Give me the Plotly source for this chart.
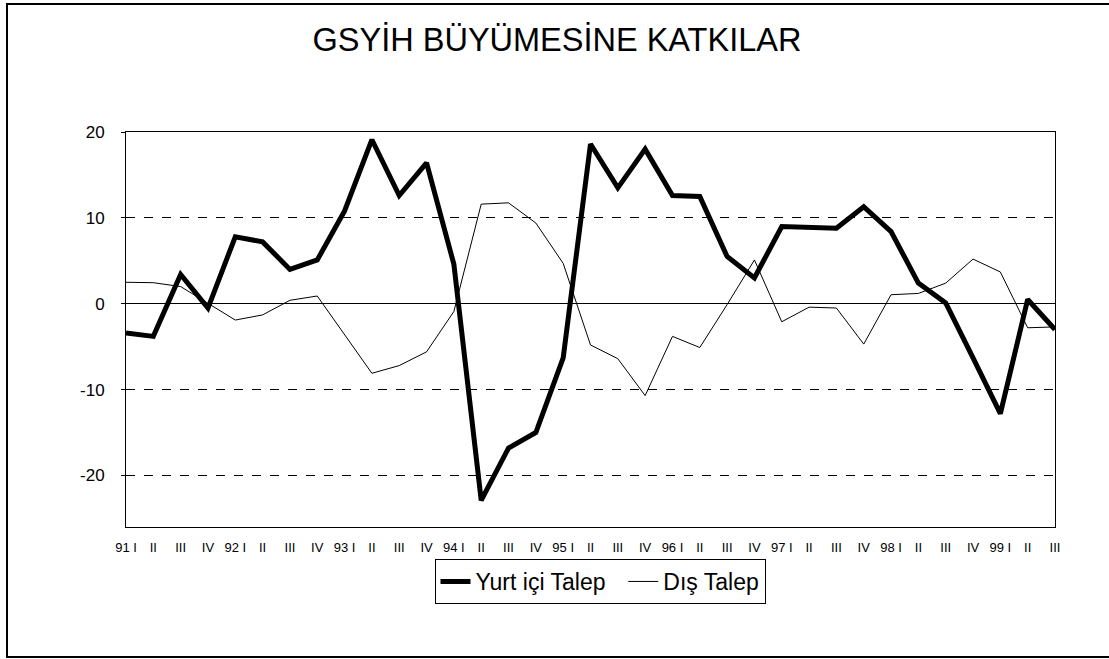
import plotly.graph_objects as go

quarters = ["91 I", "II", "III", "IV", "92 I", "II", "III", "IV", "93 I", "II", "III", "IV",
            "94 I", "II", "III", "IV", "95 I", "II", "III", "IV", "96 I", "II", "III", "IV",
            "97 I", "II", "III", "IV", "98 I", "II", "III", "IV", "99 I", "II", "III"]

yurt_ici = [-3.4, -3.8, 3.4, -0.5, 7.8, 7.2, 4.0, 5.1, 10.8, 19.1, 12.6, 16.4,
            4.6, -22.9, -16.8, -15.0, -6.3, 18.6, 13.5, 18.0, 12.6, 12.5, 5.5, 3.0,
            9.0, 8.9, 8.8, 11.3, 8.4, 2.4, 0.1, -6.3, -12.8, 0.5, -3.0]

dis_talep = [2.5, 2.45, 2.0, 0.1, -1.9, -1.3, 0.4, 0.9, -3.6, -8.1, -7.2, -5.6,
             -0.9, 11.6, 11.75, 9.4, 4.7, -4.8, -6.4, -10.7, -3.8, -5.1, -0.1, 5.1,
             -2.1, -0.4, -0.5, -4.7, 1.05, 1.2, 2.4, 5.2, 3.7, -2.8, -2.7]

y_ticks = [-20, -10, 0, 10, 20]
y_tick_text = ["-20", "-10", "0", "10", "20"]

x_idx = list(range(len(quarters)))

fig = go.Figure()
fig.add_trace(go.Scatter(x=x_idx, y=yurt_ici, mode="lines", name="Yurt içi Talep\u00a0\u00a0",
                         line=dict(color="black", width=5)))
fig.add_trace(go.Scatter(x=x_idx, y=dis_talep, mode="lines", name="Dış Talep",
                         line=dict(color="black", width=1)))

W, H = 1109, 659
L, R, T, B = 126, 1055, 132, 527
pw, ph = R - L, B - T

def px(x):
    return (x - L) / pw

def py(y):
    return (B - y) / ph

fig.update_layout(
    width=W, height=H,
    margin=dict(l=L, r=W - R, t=T, b=H - B),
    paper_bgcolor="white", plot_bgcolor="white",
    font=dict(family="Liberation Sans, Arial, sans-serif", color="black"),
    title=dict(text="GSYİH BÜYÜMESİNE KATKILAR", xref="container", x=557 / W, xanchor="center",
               yref="container", y=1 - 40 / H, yanchor="middle", font=dict(size=32.5)),
    showlegend=True,
    legend=dict(orientation="h", x=px(600), xanchor="center", y=py(581.5), yanchor="middle",
                bordercolor="black", borderwidth=1, font=dict(size=23),
                itemwidth=30, tracegroupgap=0),
    xaxis=dict(range=[0, len(quarters) - 1], tickvals=x_idx, ticktext=quarters,
               tickangle=0, showgrid=False, zeroline=False, showline=True, mirror=True,
               linecolor="black", linewidth=1, ticks="outside", ticklen=8,
               tickcolor="rgba(0,0,0,0)", tickfont=dict(size=13)),
    yaxis=dict(range=[-26, 20], tickvals=y_ticks, ticktext=y_tick_text, showgrid=True,
               gridcolor="black", griddash="dash", gridwidth=1,
               zeroline=True, zerolinecolor="black", zerolinewidth=1,
               showline=True, mirror=True, linecolor="black", linewidth=1,
               ticks="outside", ticklen=4, tickcolor="black", tickfont=dict(size=17),
               ticklabelstandoff=13),
    shapes=[dict(type="rect", xref="paper", yref="paper",
                 x0=px(7), x1=px(1120), y0=py(657), y1=py(4),
                 line=dict(color="black", width=2), layer="below")],
)

fig.write_html("out.html", config={"displayModeBar": False},
               post_script="document.body.style.margin='0';document.body.style.overflow='hidden';")
